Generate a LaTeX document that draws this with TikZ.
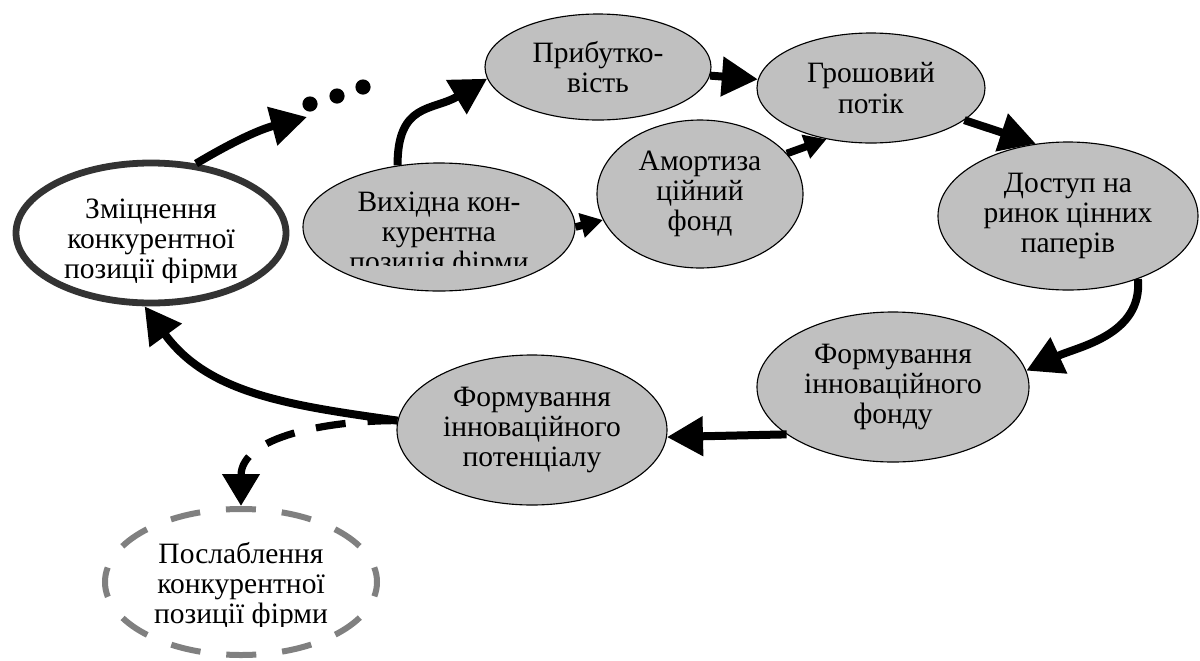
\documentclass[tikz,border=0pt]{standalone}
\usepackage{fontspec}
\setmainfont{Liberation Serif}
\usetikzlibrary{shapes, arrows.meta, positioning, calc}

\definecolor{ellgray}{HTML}{C0C0C0}
\definecolor{darkrim}{HTML}{333333}
\definecolor{lightrim}{HTML}{808080}

\begin{document}
\begin{tikzpicture}[
    x=0.25mm, y=-0.25mm,
    font=\fontsize{21}{21.5}\selectfont,
    every node/.style={inner sep=0pt},
    ell/.style={draw, ellipse, line width=0.8pt, fill=ellgray, align=center},
    strong/.style={draw=darkrim, ellipse, line width=1.7mm, fill=white},
    weak/.style={draw=lightrim, ellipse, line width=1.5mm, fill=white,
                 dash pattern=on 7.5mm off 6.5mm, dash phase=3.75mm},
    txt/.style={align=center},
    dotn/.style={circle, fill=black, minimum size=3.8mm},
    arrow/.style={-{Triangle[length=9mm, width=9.5mm]}, line width=2mm},
    sarrow/.style={-{Triangle[length=5.5mm, width=6mm]}, line width=1.9mm},
    darrow/.style={-{Triangle[length=8mm, width=9mm]}, line width=1.8mm,
                   dash pattern=on 7.5mm off 5.5mm}
]
\useasboundingbox (0,0) rectangle (1200,660);

% ================= Left (strengthening / weakening) =================
\node[strong, minimum width=67.5mm, minimum height=35mm] (zm) at (151,233) {};
\begin{scope}
  \clip (0,0) rectangle (1200,282);
  \node[txt] (zmtxt) at ($(zm)+(0,9)$) {Зміцнення\\конкурентної\\позиції фірми};
\end{scope}

\node[weak, minimum width=68mm, minimum height=36.5mm] (posl) at (241,582) {};
\begin{scope}
  \clip (0,0) rectangle (1200,626);
  \node[txt] (posltxt) at ($(posl)+(0,4)$) {Послаблення\\конкурентної\\позиції фірми};
\end{scope}

% dots
\foreach \i/\x/\y in {1/310/104, 2/337/96, 3/363/87}
    \node[dotn] (dot\i) at (\x,\y) {};
\coordinate (dotsin) at (307,117);

% ================= Cycle =================
\node[ell, minimum width=68mm, minimum height=32mm] (vykh) at (439,227) {};
\begin{scope}
  \clip (0,0) rectangle (1200,265);
  \node[txt] (vykhtxt) at ($(vykh)+(0,8)$) {Вихідна кон-\\курентна\\позиція фірми};
\end{scope}

\node[ell, minimum width=56.5mm, minimum height=26.5mm] (prib) at (598,67) {Прибутко-\\вість};
\node[ell, minimum width=51.5mm, minimum height=37mm] (amort) at (700,194) {Амортиза\\ційний\\фонд};
\node[ell, minimum width=57mm, minimum height=27.5mm] (grosh) at (871,88) {Грошовий\\потік};
\node[ell, minimum width=65mm, minimum height=37mm] (dost) at (1068,216) {Доступ на\\ринок цінних\\паперів};
\node[ell, minimum width=68mm, minimum height=37.5mm] (fondn) at (893,387) {Формування\\інноваційного\\фонду};
\node[ell, minimum width=67.5mm, minimum height=37.5mm] (potent) at (532,430) {Формування\\інноваційного\\потенціалу};

% Arrows
\draw[arrow] (zm.57) to[bend left=8] (dotsin);
\draw[arrow] (vykh.124) to[out=90, in=211, looseness=1.3] (prib.186);
\draw[arrow] (prib) -- (grosh);
\draw[sarrow] (vykh.east) -- (amort.195);
\draw[sarrow] (amort.25) -- (grosh.229);
\draw[arrow] (grosh.-19) -- (dost.114);
\draw[arrow] (dost.-42) to[out=-85, in=25] (fondn.7);
\draw[arrow] (fondn.204) -- (potent.-3);
\draw[darrow] (potent.176) to[out=180, in=90] (posl.north);
\draw[arrow] (potent.176) to[out=172, in=-54] (zm.265);

\end{tikzpicture}
\end{document}
